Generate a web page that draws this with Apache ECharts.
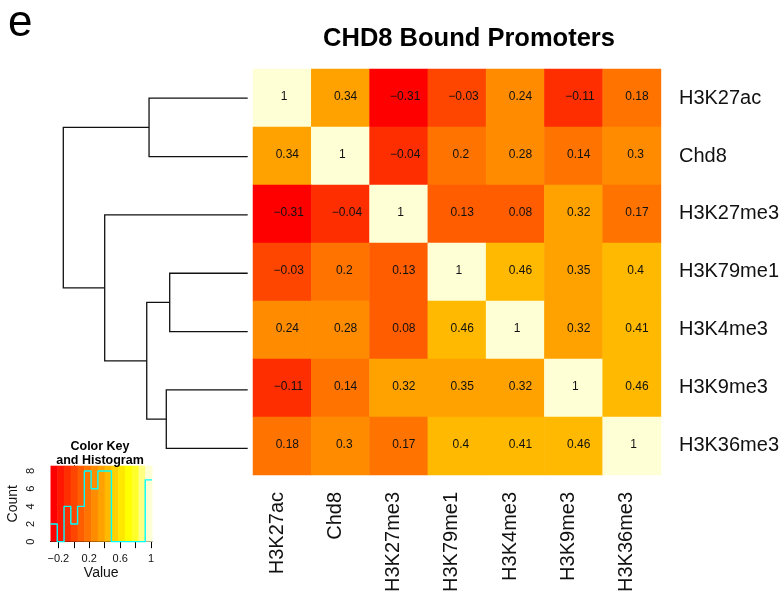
<!DOCTYPE html>
<html>
<head>
<meta charset="utf-8">
<script src="https://cdn.jsdelivr.net/npm/echarts@6/dist/echarts.min.js"></script>
<style>
  html, body { margin: 0; padding: 0; background: #ffffff; }
  #chart { width: 782px; height: 595px; }
</style>
</head>
<body>
<div id="chart"></div>
<script>
// Histone marks / CHD8, in dendrogram order (rows top to bottom, columns left to right)
const marks = ['H3K27ac', 'Chd8', 'H3K27me3', 'H3K79me1', 'H3K4me3', 'H3K9me3', 'H3K36me3'];

// Pairwise correlations, one row per mark
const corrH3K27ac  = [1, 0.34, -0.31, -0.03, 0.24, -0.11, 0.18];
const corrChd8     = [0.34, 1, -0.04, 0.2, 0.28, 0.14, 0.3];
const corrH3K27me3 = [-0.31, -0.04, 1, 0.13, 0.08, 0.32, 0.17];
const corrH3K79me1 = [-0.03, 0.2, 0.13, 1, 0.46, 0.35, 0.4];
const corrH3K4me3  = [0.24, 0.28, 0.08, 0.46, 1, 0.32, 0.41];
const corrH3K9me3  = [-0.11, 0.14, 0.32, 0.35, 0.32, 1, 0.46];
const corrH3K36me3 = [0.18, 0.3, 0.17, 0.4, 0.41, 0.46, 1];
const corrRows = [corrH3K27ac, corrChd8, corrH3K27me3, corrH3K79me1, corrH3K4me3, corrH3K9me3, corrH3K36me3];

// Row dendrogram, hclust-style merges: negative = leaf (1-based row), positive = earlier merge; third entry = height
const dendroMerge = [
  [-1, -2, 1.07],
  [-4, -5, 0.846],
  [-6, -7, 0.883],
  [2, 3, 1.095],
  [-3, 4, 1.551],
  [1, 5, 2.0]
];
const dendroMaxHeight = 2.0;

// Colour key: 15 heat colours and their 16 breaks
const keyColors = ['#FF0000', '#FF1700', '#FF2E00', '#FF4600', '#FF5D00', '#FF7400', '#FF8B00', '#FFA200',
                   '#FFB900', '#FFD100', '#FFE800', '#FFFF00', '#FFFF2A', '#FFFF80', '#FFFFD5'];
const keyBreaks = [-0.301, -0.2135, -0.126, -0.0385, 0.049, 0.1365, 0.224, 0.3115, 0.399,
                   0.4865, 0.574, 0.6615, 0.749, 0.8365, 0.924, 1.0115];
// Histogram counts per colour bin
const histCounts = [2, 0, 4, 2, 4, 8, 6, 8, 8, 0, 0, 0, 0, 0, 7];
const keyValueTicks = [-0.2, 0, 0.2, 0.4, 0.6, 0.8, 1];
const keyValueLabels = [-0.2, 0.2, 0.6, 1];
const keyCountTicks = [0, 2, 4, 6, 8];

const FONT = '"Liberation Sans", Arial, Helvetica, sans-serif';
const fmtNum = v => String(v).replace('-', '\u2212');

// text width, used to nudge cell labels slightly right like R's text placement
const measureCtx = document.createElement('canvas').getContext('2d');
measureCtx.font = '12px ' + FONT;

const heatData = [];
corrRows.forEach((row, r) => {
  row.forEach((v, c) => {
    const w = measureCtx.measureText(fmtNum(v)).width;
    heatData.push({ value: [c, r, v], label: { offset: [0.2 * w + 0.5, -1] } });
  });
});

// dendrogram node positions (leaf index units) and U-shaped links
function nodePos(id) {
  if (id < 0) return { y: -id - 1, h: 0 };
  const m = dendroMerge[id - 1];
  const a = nodePos(m[0]), b = nodePos(m[1]);
  return { y: (a.y + b.y) / 2, h: m[2] };
}
const dendroData = dendroMerge.map(m => {
  const a = nodePos(m[0]), b = nodePos(m[1]);
  return [a.h, a.y, b.h, b.y, m[2]];
});

const pieces = keyColors.map((color, k) => {
  const p = { color: color };
  if (k > 0) p.gte = keyBreaks[k];
  if (k < keyColors.length - 1) p.lt = keyBreaks[k + 1];
  return p;
});

const keyYMax = 8.6;

const chart = echarts.init(document.getElementById('chart'), null, { renderer: 'canvas' });

chart.setOption({
  backgroundColor: '#ffffff',
  animation: false,
  textStyle: { fontFamily: FONT },
  grid: [
    { left: 253, top: 69, width: 410, height: 408.5 },
    { left: 63.3, top: 69, width: 184.4, height: 408.5 },
    { left: 50.5, top: 465.7, width: 101.5, height: 76 }
  ],
  xAxis: [
    {
      gridIndex: 0, type: 'category', data: marks,
      axisLine: { show: false }, axisTick: { show: false }, splitLine: { show: false },
      axisLabel: { rotate: 90, fontSize: 20, color: '#111', margin: 17, fontFamily: FONT,
                   verticalAlign: 'bottom', lineHeight: 10 }
    },
    {
      gridIndex: 1, type: 'value', min: 0, max: dendroMaxHeight, inverse: true, show: false
    },
    {
      gridIndex: 2, type: 'value', min: keyBreaks[0], max: keyBreaks[keyBreaks.length - 1],
      splitLine: { show: false },
      axisLine: { show: true, onZero: false, lineStyle: { color: '#000', width: 1 } },
      axisTick: { show: true, length: 6.5, customValues: keyValueTicks, lineStyle: { color: '#000', width: 1 } },
      axisLabel: { customValues: keyValueLabels, fontSize: 11, color: '#111', margin: 12, formatter: v => fmtNum(v) },
      name: 'Value', nameLocation: 'middle', nameGap: 24,
      nameTextStyle: { fontSize: 14, color: '#111', fontFamily: FONT }
    }
  ],
  yAxis: [
    {
      gridIndex: 0, type: 'category', data: marks, inverse: true, position: 'right',
      axisLine: { show: false }, axisTick: { show: false }, splitLine: { show: false },
      axisLabel: { fontSize: 20, color: '#111', margin: 18, fontFamily: FONT }
    },
    {
      gridIndex: 1, type: 'value', min: -0.5, max: marks.length - 0.5, inverse: true, show: false
    },
    {
      gridIndex: 2, type: 'value', min: 0, max: keyYMax,
      splitLine: { show: false },
      axisLine: { show: true, lineStyle: { color: '#000', width: 1 } },
      axisTick: { show: true, length: 6.5, customValues: keyCountTicks, lineStyle: { color: '#000', width: 1 } },
      axisLabel: { customValues: keyCountTicks, rotate: 90, fontSize: 11, color: '#111', margin: 14 },
      name: 'Count', nameLocation: 'middle', nameGap: 30, nameRotate: 90,
      nameTextStyle: { fontSize: 14, color: '#111', fontFamily: FONT }
    }
  ],
  visualMap: {
    type: 'piecewise', show: false, seriesIndex: 0, dimension: 2, pieces: pieces
  },
  series: [
    {
      type: 'heatmap', xAxisIndex: 0, yAxisIndex: 0, data: heatData,
      itemStyle: { borderWidth: 0 },
      label: {
        show: true, fontSize: 12, color: '#111', fontFamily: FONT,
        formatter: p => fmtNum(p.value[2])
      },
      emphasis: { disabled: true }
    },
    {
      type: 'custom', xAxisIndex: 1, yAxisIndex: 1, data: dendroData, clip: false,
      encode: { x: [0, 2, 4], y: [1, 3] },
      renderItem: (params, api) => {
        const pts = [
          [api.value(0), api.value(1)],
          [api.value(4), api.value(1)],
          [api.value(4), api.value(3)],
          [api.value(2), api.value(3)]
        ].map(v => api.coord(v));
        return { type: 'polyline', shape: { points: pts }, style: { stroke: '#111', lineWidth: 1.3, fill: null } };
      },
      silent: true
    },
    {
      type: 'custom', xAxisIndex: 2, yAxisIndex: 2,
      data: keyColors.map((c, k) => [keyBreaks[k], keyBreaks[k + 1]]),
      encode: { x: [0, 1] },
      renderItem: (params, api) => {
        const p0 = api.coord([api.value(0), keyYMax]);
        const p1 = api.coord([api.value(1), 0]);
        return {
          type: 'rect',
          shape: { x: p0[0], y: p0[1], width: p1[0] - p0[0] + 0.5, height: p1[1] - p0[1] },
          style: { fill: keyColors[params.dataIndex] }
        };
      },
      silent: true, z: 1
    },
    {
      type: 'line', xAxisIndex: 2, yAxisIndex: 2, step: 'end', symbol: 'none',
      data: keyBreaks.map((b, k) => [b, histCounts[Math.min(k, histCounts.length - 1)]]),
      lineStyle: { color: '#00FFFF', width: 1.4 },
      silent: true, z: 3
    }
  ],
  graphic: [
    {
      type: 'text', x: 469, y: 38.5,
      style: { text: 'CHD8 Bound Promoters', fontSize: 25.5, fontWeight: 'bold', fontFamily: FONT,
               fill: '#000', align: 'center', verticalAlign: 'middle' }
    },
    {
      type: 'text', x: 8, y: 24,
      style: { text: 'e', fontSize: 44, fontFamily: FONT, fill: '#000', align: 'left', verticalAlign: 'middle' }
    },
    {
      type: 'text', x: 100, y: 446.3,
      style: { text: 'Color Key', fontSize: 12.5, fontWeight: 'bold', fontFamily: FONT,
               fill: '#000', align: 'center', verticalAlign: 'middle' }
    },
    {
      type: 'text', x: 100, y: 460.6, z: 10,
      style: { text: 'and Histogram', fontSize: 12.5, fontWeight: 'bold', fontFamily: FONT,
               fill: '#000', align: 'center', verticalAlign: 'middle' }
    }
  ]
});
</script>
</body>
</html>
